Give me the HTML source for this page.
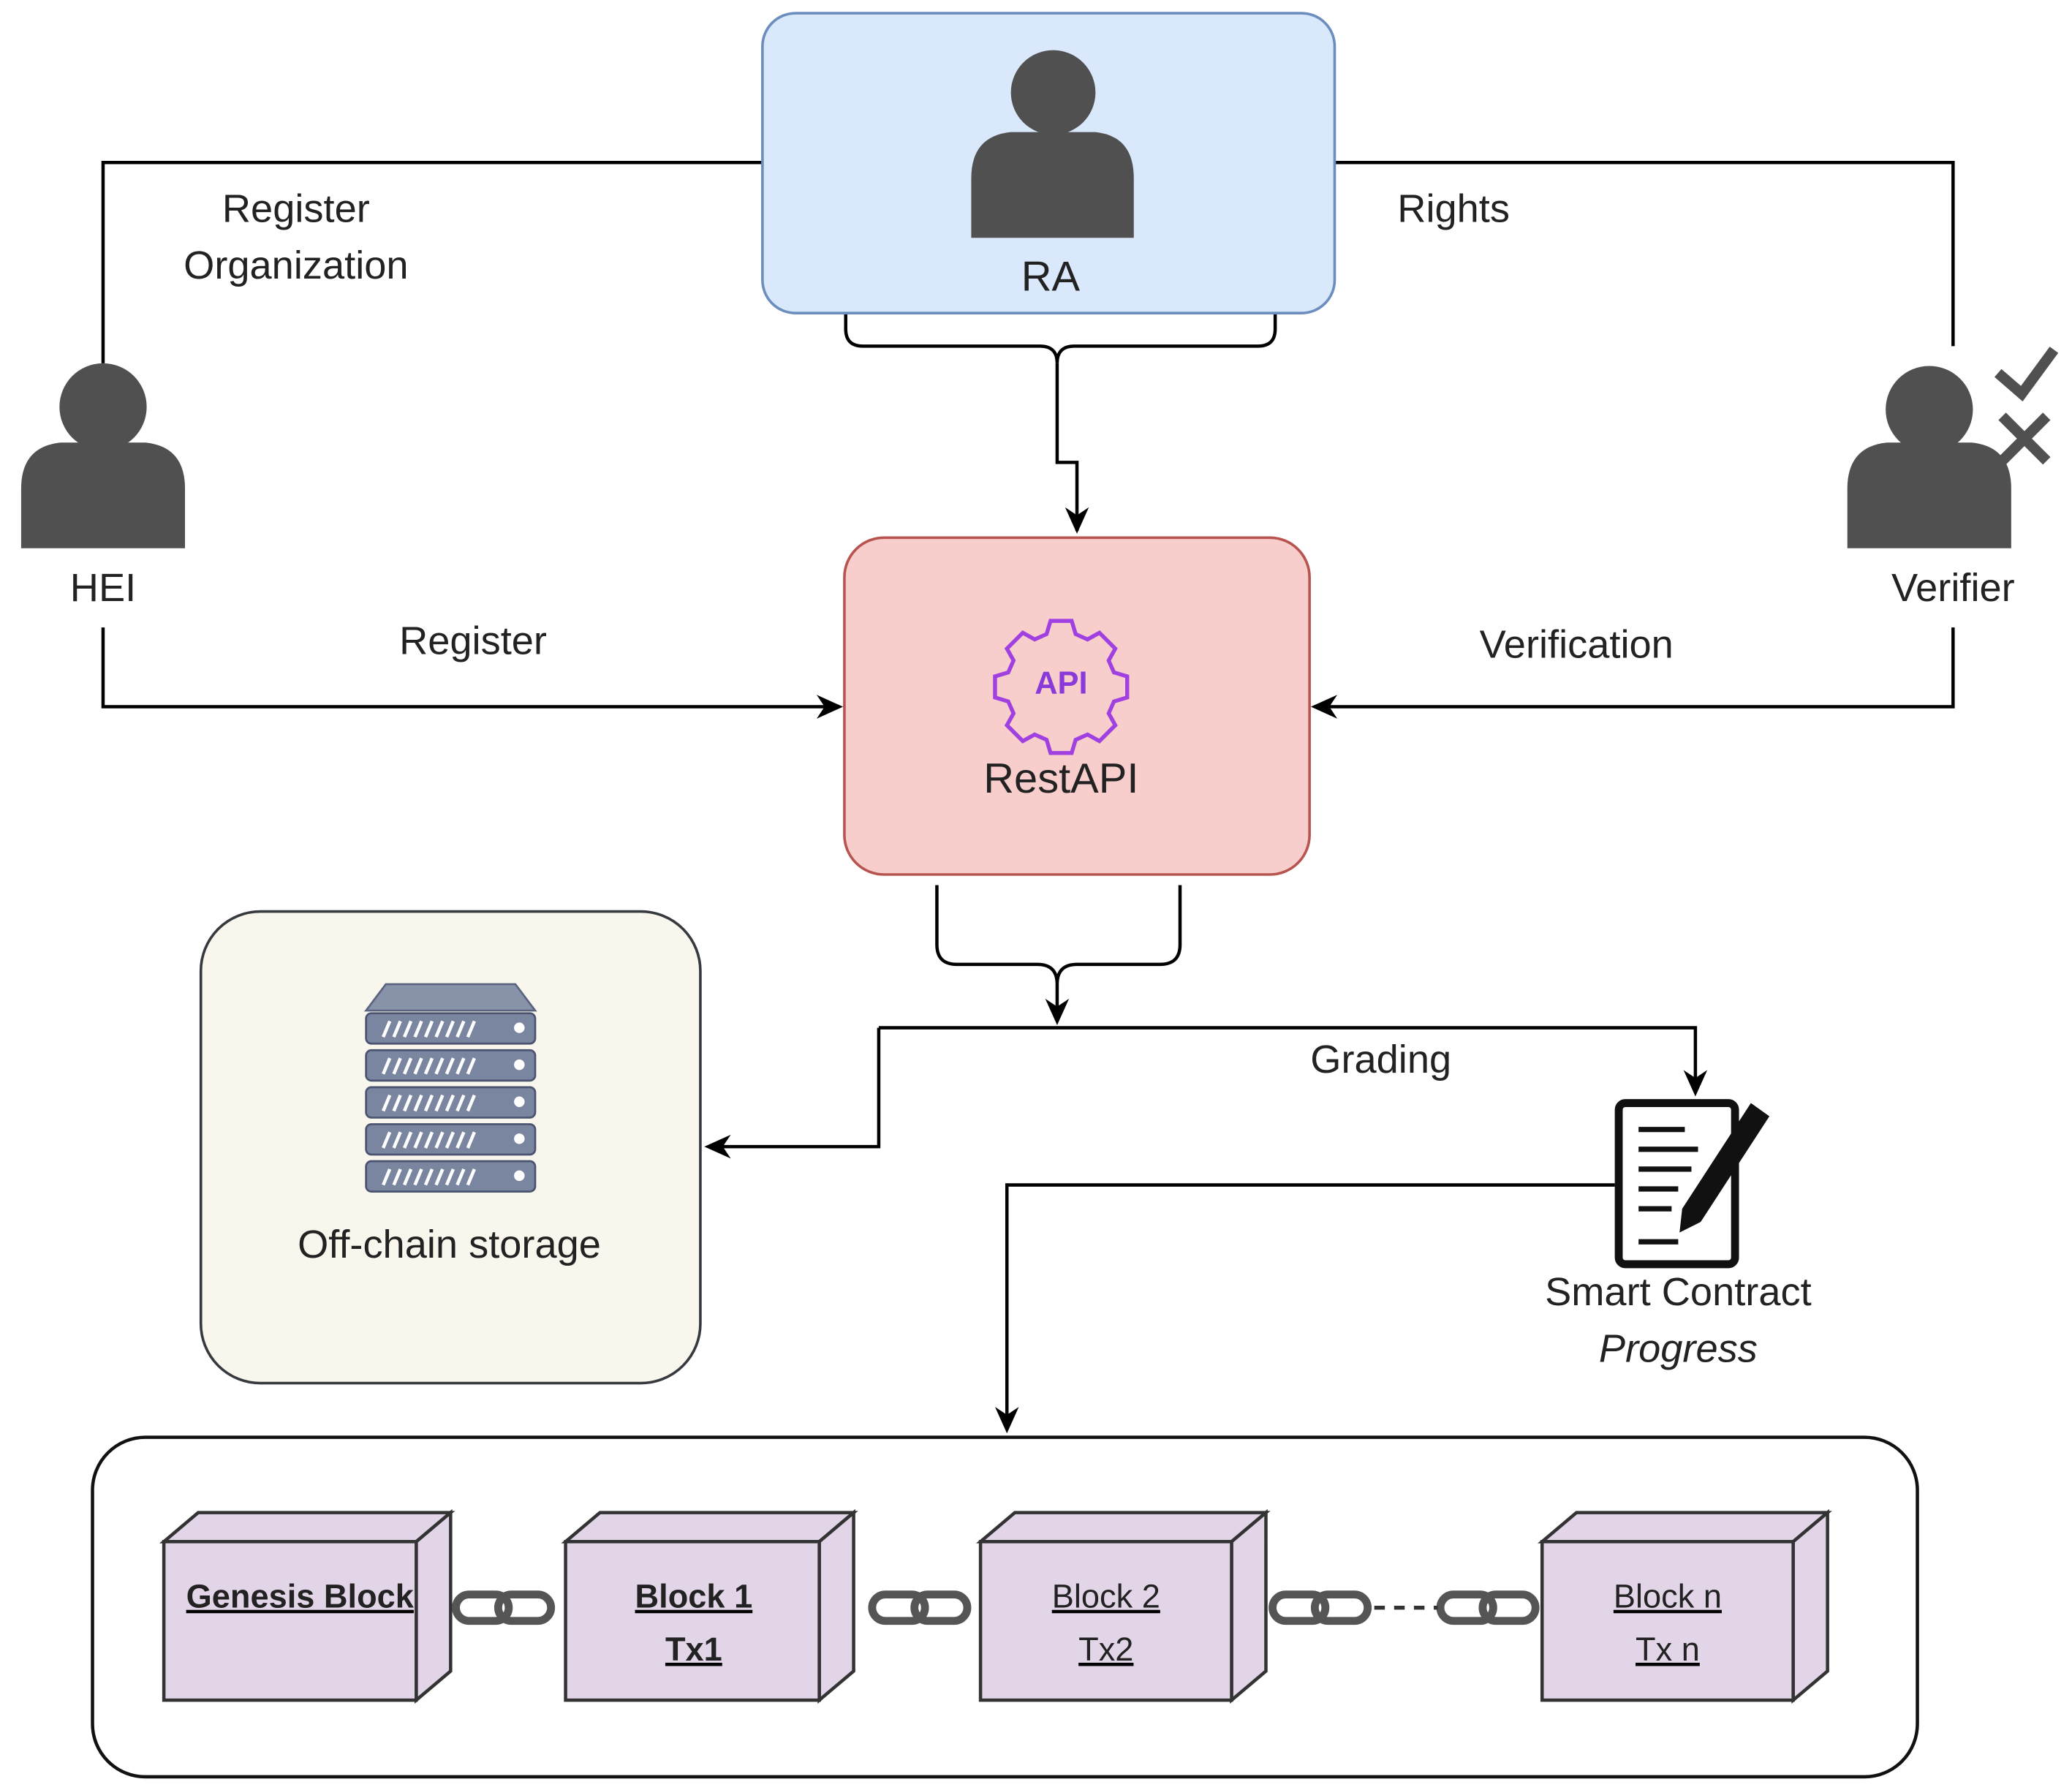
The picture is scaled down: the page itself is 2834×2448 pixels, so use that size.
<!DOCTYPE html>
<html><head><meta charset="utf-8"><style>
html,body{margin:0;padding:0;background:#fff;}
svg{display:block;}
text{font-family:"Liberation Sans",sans-serif;fill:#222;}
</style></head><body>
<svg width="2834" height="2448" viewBox="0 0 1568 1355" preserveAspectRatio="none" xmlns="http://www.w3.org/2000/svg">
<defs>
<marker id="ar" viewBox="0 0 10 10" refX="9" refY="5" markerWidth="7" markerHeight="7" orient="auto-start-reverse" markerUnits="userSpaceOnUse">
<path d="M0,0 L10,5 L0,10 L3,5 z" fill="#000"/></marker>
</defs>
<rect width="1568" height="1355" fill="#fff"/>

<!-- connector lines -->
<g stroke="#000" stroke-width="2.5" fill="none">
<polyline points="78,275 78,123 577,123"/>
<polyline points="1478,262 1478,123 1010,123"/>
<path d="M640,237 v12 q0,13 13,13 h134 q13,0 13,13 q0,-13 13,-13 h139 q13,0 13,-13 v-12"/>
<polyline points="800,275 800,350 815,350 815,402" marker-end="url(#ar)" style="marker-end:none"/>
<polyline points="78,475 78,535 632,535"/>
<polyline points="1478,475 1478,535 998,535"/>
<path d="M709,670 v45 q0,15 15,15 h61 q15,0 15,15 q0,-15 15,-15 h63 q15,0 15,-15 v-45"/>
<polyline points="800,745 800,770"/>
<polyline points="665,778 1283,778 1283,825"/>
<polyline points="665,778 665,868 540,868"/>
<polyline points="1222,897 762,897 762,1078"/>
</g>
<!-- arrowheads -->
<g fill="#000">
<path d="M815,404 l-9,-20 l9,6 l9,-6 z"/>
<path d="M638,535 l-20,-9 l6,9 l-6,9 z"/>
<path d="M992,535 l20,-9 l-6,9 l6,9 z"/>
<path d="M800,776 l-9,-20 l9,6 l9,-6 z"/>
<path d="M1283,830 l-9,-20 l9,6 l9,-6 z"/>
<path d="M533,868 l20,-9 l-6,9 l6,9 z"/>
<path d="M762,1085 l-9,-20 l9,6 l9,-6 z"/>
</g>

<!-- RA -->
<rect x="577" y="10" width="433" height="227" rx="25" fill="#dae8fc" stroke="#6c8ebf" stroke-width="2"/>
<g fill="#505050">
<circle cx="797" cy="70" r="32"/>
<path d="M735,180 v-45 q0,-32 30,-35 h64 q29,3 29,35 v45 z"/>
</g>
<text x="795" y="220" font-size="32" text-anchor="middle">RA</text>

<text x="224" y="168" font-size="30" text-anchor="middle">Register</text>
<text x="224" y="211" font-size="30" text-anchor="middle">Organization</text>
<text x="1100" y="168" font-size="30" text-anchor="middle">Rights</text>

<!-- HEI -->
<g fill="#505050">
<circle cx="78" cy="308" r="33"/>
<path d="M16,415 v-45 q0,-32 30,-35 h64 q30,3 30,35 v45 z"/>
</g>
<text x="78" y="455" font-size="30" text-anchor="middle">HEI</text>

<!-- Verifier -->
<g fill="#505050">
<circle cx="1460" cy="310" r="33"/>
<path d="M1398,415 v-45 q0,-32 30,-35 h64 q30,3 30,35 v45 z"/>
</g>
<g stroke="#505050" stroke-width="8" fill="none" stroke-linecap="square">
<polyline points="1515,285 1530,298 1552,268"/>
<line x1="1518" y1="318" x2="1546" y2="346"/>
<line x1="1546" y1="318" x2="1518" y2="346"/>
</g>
<text x="1478" y="455" font-size="30" text-anchor="middle">Verifier</text>

<text x="358" y="495" font-size="30" text-anchor="middle">Register</text>
<text x="1193" y="498" font-size="30" text-anchor="middle">Verification</text>

<!-- RestAPI -->
<rect x="639" y="407" width="352" height="255" rx="30" fill="#f8cecc" stroke="#b85450" stroke-width="2"/>
<g transform="translate(803,515)">
<path d="M-8,-45 h16 l3,10 l9,4 l9,-5 l12,12 l-5,9 l4,9 l10,3 v16 l-10,3 l-4,9 l5,9 l-12,12 l-9,-5 l-9,4 l-3,10 h-16 l-3,-10 l-9,-4 l-9,5 l-12,-12 l5,-9 l-4,-9 l-10,-3 v-16 l10,-3 l4,-9 l-5,-9 l12,-12 l9,5 l9,-4 z" fill="none" stroke="#a040e0" stroke-width="3"/>
<text x="0" y="10" font-size="24" font-weight="bold" text-anchor="middle" style="fill:#8a3ad8">API</text>
</g>
<text x="803" y="600" font-size="32" text-anchor="middle">RestAPI</text>

<text x="1045" y="812" font-size="30" text-anchor="middle">Grading</text>

<!-- Off-chain storage -->
<rect x="152" y="690" width="378" height="357" rx="45" fill="#f9f7ed" stroke="#36393d" stroke-width="2"/>
<path d="M277,765 l15,-20 h98 l15,20 z" fill="#8892a8" stroke="#5a6480" stroke-width="1.5"/>
<g fill="#7a85a0" stroke="#4a5470" stroke-width="1.5">
<rect x="277" y="767" width="128" height="23" rx="4"/>
<rect x="277" y="795" width="128" height="23" rx="4"/>
<rect x="277" y="823" width="128" height="23" rx="4"/>
<rect x="277" y="851" width="128" height="23" rx="4"/>
<rect x="277" y="879" width="128" height="23" rx="4"/>
</g>
<g fill="#fff">
<circle cx="393" cy="778" r="4"/><circle cx="393" cy="806" r="4"/><circle cx="393" cy="834" r="4"/><circle cx="393" cy="862" r="4"/><circle cx="393" cy="890" r="4"/>
</g>
<g stroke="#fff" stroke-width="2.5">
<path d="M290,785 l5,-12 M298,785 l5,-12 M306,785 l5,-12 M314,785 l5,-12 M322,785 l5,-12 M330,785 l5,-12 M338,785 l5,-12 M346,785 l5,-12 M354,785 l5,-12"/>
<path d="M290,813 l5,-12 M298,813 l5,-12 M306,813 l5,-12 M314,813 l5,-12 M322,813 l5,-12 M330,813 l5,-12 M338,813 l5,-12 M346,813 l5,-12 M354,813 l5,-12"/>
<path d="M290,841 l5,-12 M298,841 l5,-12 M306,841 l5,-12 M314,841 l5,-12 M322,841 l5,-12 M330,841 l5,-12 M338,841 l5,-12 M346,841 l5,-12 M354,841 l5,-12"/>
<path d="M290,869 l5,-12 M298,869 l5,-12 M306,869 l5,-12 M314,869 l5,-12 M322,869 l5,-12 M330,869 l5,-12 M338,869 l5,-12 M346,869 l5,-12 M354,869 l5,-12"/>
<path d="M290,897 l5,-12 M298,897 l5,-12 M306,897 l5,-12 M314,897 l5,-12 M322,897 l5,-12 M330,897 l5,-12 M338,897 l5,-12 M346,897 l5,-12 M354,897 l5,-12"/>
</g>
<text x="340" y="952" font-size="30" text-anchor="middle">Off-chain storage</text>

<!-- Smart contract -->
<rect x="1225" y="835" width="88" height="122" rx="5" fill="#fff" stroke="#111" stroke-width="6"/>
<g stroke="#111" stroke-width="4">
<line x1="1240" y1="855" x2="1275" y2="855"/><line x1="1240" y1="870" x2="1285" y2="870"/>
<line x1="1240" y1="885" x2="1280" y2="885"/><line x1="1240" y1="900" x2="1270" y2="900"/>
<line x1="1240" y1="915" x2="1265" y2="915"/><line x1="1240" y1="940" x2="1270" y2="940"/>
</g>
<path d="M1325,835 l14,10 l-52,80 l-16,8 l2,-18 z" fill="#111"/>
<text x="1270" y="988" font-size="30" text-anchor="middle">Smart Contract</text>
<text x="1270" y="1031" font-size="30" font-style="italic" text-anchor="middle">Progress</text>

<!-- Blockchain container -->
<rect x="70" y="1088" width="1381" height="257" rx="40" fill="#fff" stroke="#111" stroke-width="2.5"/>

<g fill="#e1d5e7" stroke="#333" stroke-width="2.5">
<path d="M124,1167 l26,-22 h191 l-26,22 z"/><path d="M315,1167 l26,-22 v120 l-26,22 z"/><rect x="124" y="1167" width="191" height="120"/>
<path d="M428,1167 l26,-22 h192 l-26,22 z"/><path d="M620,1167 l26,-22 v120 l-26,22 z"/><rect x="428" y="1167" width="192" height="120"/>
<path d="M742,1167 l26,-22 h190 l-26,22 z"/><path d="M932,1167 l26,-22 v120 l-26,22 z"/><rect x="742" y="1167" width="190" height="120"/>
<path d="M1167,1167 l26,-22 h190 l-26,22 z"/><path d="M1357,1167 l26,-22 v120 l-26,22 z"/><rect x="1167" y="1167" width="190" height="120"/>
</g>
<g font-size="25" text-anchor="middle" text-decoration="underline">
<text x="227" y="1217" font-weight="bold">Genesis Block</text>
<text x="525" y="1217" font-weight="bold">Block 1</text>
<text x="525" y="1257" font-weight="bold">Tx1</text>
<text x="837" y="1217">Block 2</text>
<text x="837" y="1257">Tx2</text>
<text x="1262" y="1217">Block n</text>
<text x="1262" y="1257">Tx n</text>
</g>
<!-- chain links -->
<g fill="none" stroke="#555" stroke-width="6">
<rect x="345" y="1207" width="40" height="20" rx="10"/><rect x="377" y="1207" width="40" height="20" rx="10"/>
<rect x="660" y="1207" width="40" height="20" rx="10"/><rect x="692" y="1207" width="40" height="20" rx="10"/>
<rect x="963" y="1207" width="40" height="20" rx="10"/><rect x="995" y="1207" width="40" height="20" rx="10"/>
<rect x="1090" y="1207" width="40" height="20" rx="10"/><rect x="1122" y="1207" width="40" height="20" rx="10"/>
</g>
<line x1="1040" y1="1217" x2="1088" y2="1217" stroke="#333" stroke-width="3" stroke-dasharray="8,7"/>
</svg>
</body></html>
